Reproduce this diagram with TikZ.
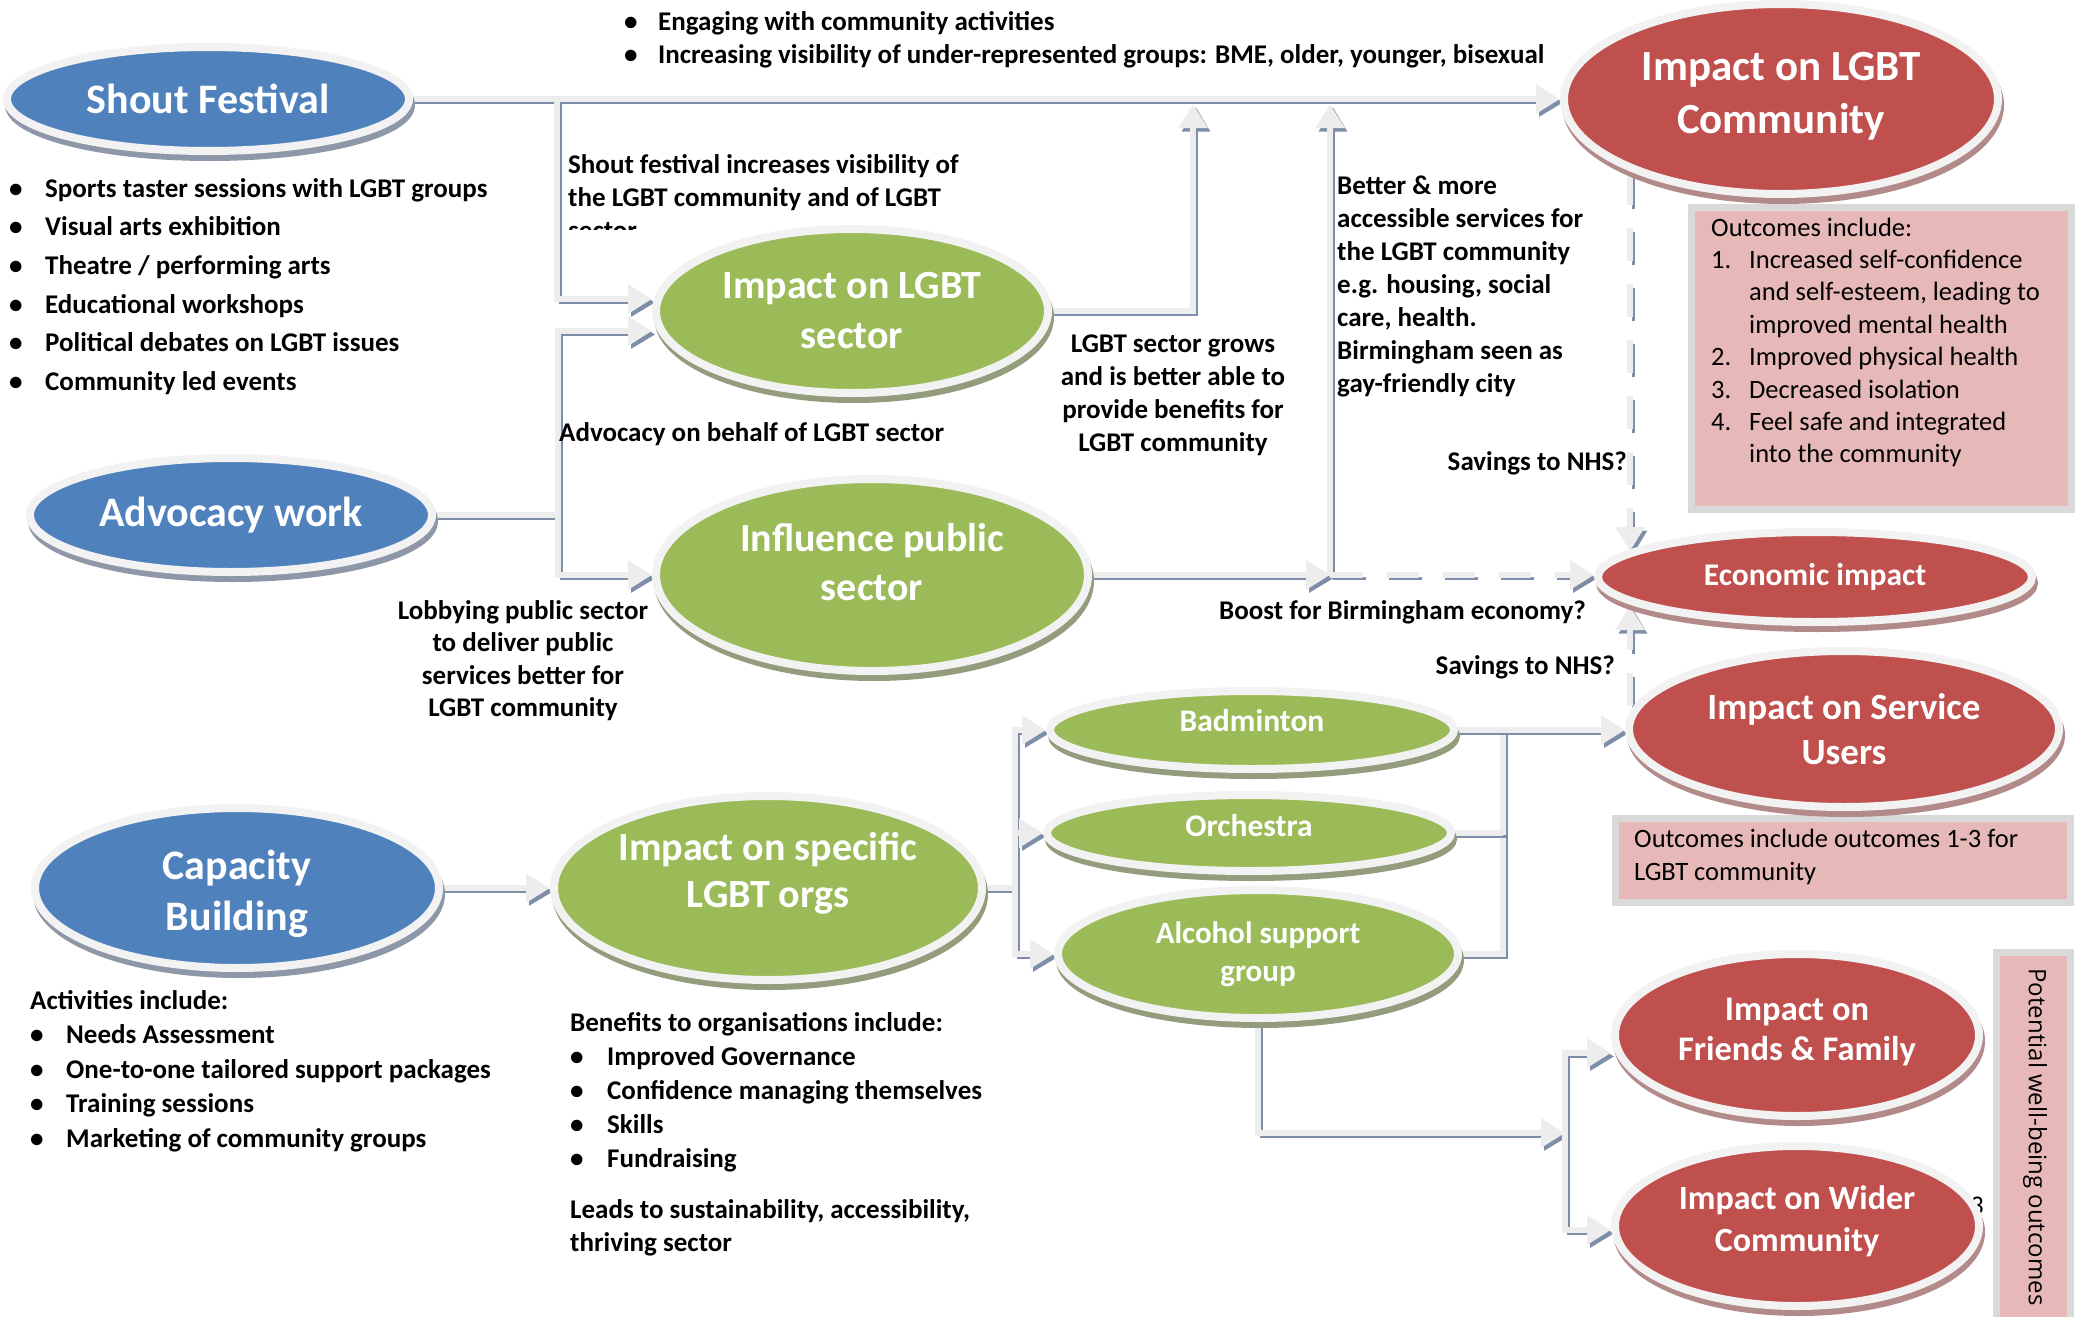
\documentclass[tikz,border=0pt]{standalone}
\usepackage{fontspec}
\setmainfont{Carlito}
\newfontfamily\potfont{Open Sans}
\usetikzlibrary{arrows.meta,shapes.geometric}
\pgfdeclarelayer{bg}
\pgfsetlayers{bg,main}
\definecolor{bluef}{HTML}{4F81BD}
\definecolor{greenf}{HTML}{9BBB59}
\definecolor{redf}{HTML}{C0504D}
\definecolor{ringc}{HTML}{F2F2F2}
\definecolor{bshad}{HTML}{8E97A8}
\definecolor{gshad}{HTML}{939C7C}
\definecolor{rshad}{HTML}{B38A8A}
\definecolor{pinkf}{HTML}{E6B9B8}
\definecolor{boxb}{HTML}{D9D9D9}
\definecolor{connl}{HTML}{EDEDED}
\definecolor{connd}{HTML}{7F8EA8}
\newcommand\setfs[2]{\fontsize{#1}{#2}\selectfont}
\newcommand\txl[1]{\begin{tabular}[t]{@{}l@{}}#1\end{tabular}}
\newcommand\txc[1]{\begin{tabular}[t]{@{}c@{}}#1\end{tabular}}
\newcommand\txb[2]{\begin{tabular}[t]{@{}p{#1}@{}l@{}}#2\end{tabular}}
\newcommand\lift[2]{\raisebox{#1}[\height][\depth]{\begin{tabular}{@{}c@{}}#2\end{tabular}}}
\begin{document}
\begin{tikzpicture}[x=1pt,y=-1pt,
  bub/.style 2 args={ellipse, inner sep=0pt, minimum width={2*(#1+4)*1pt}, minimum height={2*(#2+4)*1pt}, draw=ringc, line width=8pt, text=white, align=center},
  blueb/.style={fill=bluef, preaction={fill=bshad, draw=bshad, transform canvas={shift={(2pt,-6pt)}}}},
  greenb/.style={fill=greenf, preaction={fill=gshad, draw=gshad, transform canvas={shift={(2pt,-6pt)}}}},
  redb/.style={fill=redf, preaction={fill=rshad, draw=rshad, transform canvas={shift={(2pt,-6pt)}}}},
  conn/.style={draw=connl, line width=6pt, line join=miter, preaction={draw=connd, line width=3pt, transform canvas={shift={(3pt,-3.5pt)}}}},
  dconn/.style={draw=connl, line width=6pt, dash pattern=on 33pt off 23pt, preaction={draw=connd, line width=3pt, dash pattern=on 33pt off 23pt, transform canvas={shift={(3pt,-3.5pt)}}}},
  tip/.style={-{Triangle[length=24pt,width=28pt]}},
  lbl/.style={inner sep=0pt, font=\setfs{27}{33}\bfseries},
  pinkbox/.style={draw=boxb, line width=7pt, fill=pinkf, inner sep=0pt, outer sep=0pt, anchor=north west}
]
\useasboundingbox (0,0) rectangle (2078,1317);
\clip (0,0) rectangle (2078,1317);

% ---------- boxes ----------
\node[pinkbox, minimum width=379.5pt, minimum height=301.5pt] (outbox) at (1691.5,207.5) {};
\node[pinkbox, minimum width=454.5pt, minimum height=83.5pt] (outbox2) at (1615.5,818.5) {};
\node[pinkbox, minimum width=74pt, minimum height=380pt] (potbox) at (1996.5,952.5) {};

% ---------- bubbles ----------
\node[bub={197}{48}, blueb, font=\setfs{42}{52}\bfseries] (shout) at (208,99) {Shout Festival};
\node[bub={197}{53}, blueb, font=\setfs{42}{52}\bfseries] (advocacy) at (231,515) {Advocacy work};
\node[bub={198}{76}, blueb, font=\setfs{42}{51}\bfseries] (capacity) at (237,888) {\lift{-7pt}{Capacity\\Building}};
\node[bub={192}{78}, greenb, font=\setfs{40}{50}\bfseries] (sector) at (852,311) {Impact on LGBT\\sector};
\node[bub={212}{92}, greenb, font=\setfs{40}{49}\bfseries] (influence) at (872,575) {\lift{9pt}{Influence public\\sector}};
\node[bub={210}{88}, greenb, font=\setfs{40}{47}\bfseries] (specific) at (768,888) {\lift{13pt}{Impact on specific\\LGBT orgs}};
\node[bub={213}{91}, redb, font=\setfs{43}{53}\bfseries] (community) at (1781,99) {\lift{3pt}{Impact on LGBT\\Community}};
\node[bub={213}{41}, redb, font=\setfs{31.5}{38}\bfseries] (econ) at (1815,577) {Economic impact};
\node[bub={211}{74}, redb, font=\setfs{37}{45}\bfseries] (service) at (1844,729) {Impact on Service\\Users};
\node[bub={198}{35}, greenb, font=\setfs{31.5}{38}\bfseries] (badminton) at (1252,730) {\lift{6pt}{Badminton}};
\node[bub={198}{34}, greenb, font=\setfs{31.5}{38}\bfseries] (orchestra) at (1249,833) {\lift{4pt}{Orchestra}};
\node[bub={196}{60}, greenb, font=\setfs{31}{38}\bfseries] (alcohol) at (1258,954) {Alcohol support\\group};
\node[bub={178}{77}, redb, font=\setfs{34.5}{40}\bfseries] (friends) at (1797,1035) {\lift{3pt}{Impact on\\Friends \& Family}};
\node[bub={178}{76}, redb, font=\setfs{34}{42}\bfseries] (wider) at (1797,1226) {\lift{4pt}{Impact on Wider\\Community}};

% ---------- connectors ----------
\begin{pgfonlayer}{bg}
\node[inner sep=0pt, font=\setfs{27}{33}, anchor=base west] (pg3) at (1970,1214) {3};
\coordinate (ja) at (557,99);
\coordinate (jb) at (558,515);
\coordinate (jc) at (1193,104);
\coordinate (jd) at (1330,575);
\coordinate (je) at (1330,104);
\coordinate (ea) at (1630,172);
\coordinate (eb) at (1630,551);
\coordinate (ec) at (1630,706);
\coordinate (ed) at (1630,606);
\coordinate (jf) at (1015,888);
\coordinate (jh) at (1503,730);
\coordinate (ji) at (1565,1133);
\coordinate (jj) at (1565,1053);
\coordinate (jk) at (1565,1230);
\draw[conn,tip] (shout.center) -- (community.west);
\draw[conn,tip] (ja) |- ([yshift=12pt]sector.west);
\draw[conn] (advocacy.center) -- (jb);
\draw[conn,tip] (jb) |- ([yshift=-20pt]sector.west);
\draw[conn,tip] (jb) |- (influence.west);
\draw[conn,tip] (sector.center) -| (jc);
\draw[conn,tip] (influence.center) -- (jd);
\draw[conn,tip] (jd) -- (je);
\draw[dconn,tip] (jd) -- (jd -| econ.west);
\draw[dconn,tip] (ea) -- (eb);
\draw[dconn,tip] (ec) -- (ed);
\draw[conn,tip] (capacity.center) -- (specific.west);
\draw[conn] (specific.center) -- (jf);
\draw[conn,tip] (jf) |- (badminton.west);
\draw[conn,tip] (jf) |- (orchestra.west);
\draw[conn,tip] (jf) |- (alcohol.west);
\draw[conn] (alcohol.center) -| (jh);
\draw[conn] (orchestra.center) -- (orchestra -| jh);
\draw[conn,tip] (badminton.center) -- (badminton -| service.west);
\draw[conn,tip] (alcohol.center) |- (ji);
\draw[conn,tip] (jk) -- (jj) -- ([yshift=-18pt]friends.west);
\draw[conn,tip] (jj) -- (jk) -- (jk -| wider.west);
\end{pgfonlayer}

% ---------- texts ----------
\node[lbl, font=\setfs{27}{34}\bfseries, anchor=base west] (topbul) at (624,30)
  {\txb{34pt}{\textbullet & Engaging with community activities\\
   \textbullet & Increasing visibility of under-represented groups: BME, older, younger, bisexual}};
\node[lbl, font=\setfs{27}{38.7}\bfseries, anchor=base west] (shoutbul) at (9,197)
  {\txb{36pt}{\textbullet & Sports taster sessions with LGBT groups\\
   \textbullet & Visual arts exhibition\\
   \textbullet & Theatre / performing arts\\
   \textbullet & Educational workshops\\
   \textbullet & Political debates on LGBT issues\\
   \textbullet & Community led events}};
\begin{scope}
\clip (560,130) rectangle (1000,229);
\node[lbl, font=\setfs{27}{33}\bfseries, anchor=base west] (shoutlbl) at (568,173)
  {\txl{Shout festival increases visibility of\\the LGBT community and of LGBT\\sector}};
\end{scope}
\node[lbl, anchor=base west] (advlbl) at (559,441) {Advocacy on behalf of LGBT sector};
\node[lbl, anchor=base] (growlbl) at (1173,352)
  {\txc{LGBT sector grows\\and is better able to\\provide benefits for\\LGBT community}};
\node[lbl, anchor=base west] (betterlbl) at (1337,194)
  {\txl{Better \& more\\accessible services for\\the LGBT community\\e.g. housing, social\\care, health.\\Birmingham seen as\\gay-friendly city}};
\node[lbl, anchor=base east] (nhs1) at (1627,470) {Savings to NHS?};
\node[lbl, font=\setfs{27}{32.5}\bfseries, anchor=base] (lobbylbl) at (523,619)
  {\txc{Lobbying public sector\\to deliver public\\services better for\\LGBT community}};
\node[lbl, anchor=base west] (boostlbl) at (1219,619) {Boost for Birmingham economy?};
\node[lbl, anchor=base east] (nhs2) at (1615,674) {Savings to NHS?};
\node[lbl, font=\setfs{27}{34.5}\bfseries, anchor=base west] (actlbl) at (30,1009)
  {\txb{36pt}{\multicolumn{2}{@{}l@{}}{Activities include:}\\
   \textbullet & Needs Assessment\\
   \textbullet & One-to-one tailored support packages\\
   \textbullet & Training sessions\\
   \textbullet & Marketing of community groups}};
\node[lbl, font=\setfs{27}{34}\bfseries, anchor=base west] (benlbl) at (570,1031)
  {\txb{37pt}{\multicolumn{2}{@{}l@{}}{Benefits to organisations include:}\\
   \textbullet & Improved Governance\\
   \textbullet & Confidence managing themselves\\
   \textbullet & Skills\\
   \textbullet & Fundraising}};
\node[lbl, font=\setfs{27}{33}\bfseries, anchor=base west] (leadslbl) at (570,1218)
  {\txl{Leads to sustainability, accessibility,\\thriving sector}};
\node[inner sep=0pt, font=\setfs{26.5}{32.4}, anchor=base west] (outtext) at (1711,236)
  {\txb{38pt}{\multicolumn{2}{@{}l@{}}{Outcomes include:}\\
   1. & Increased self-confidence\\
      & and self-esteem, leading to\\
      & improved mental health\\
   2. & Improved physical health\\
   3. & Decreased isolation\\
   4. & Feel safe and integrated\\
      & into the community}};
\node[inner sep=0pt, font=\setfs{26.5}{33}, anchor=base west] (out2text) at (1634,847)
  {\txl{Outcomes include outcomes 1-3 for\\LGBT community}};
\node[inner sep=0pt, rotate=-90, font=\potfont\setfs{24}{30}] (pottext) at (2035,1137) {Potential well-being outcomes};
\end{tikzpicture}
\end{document}
